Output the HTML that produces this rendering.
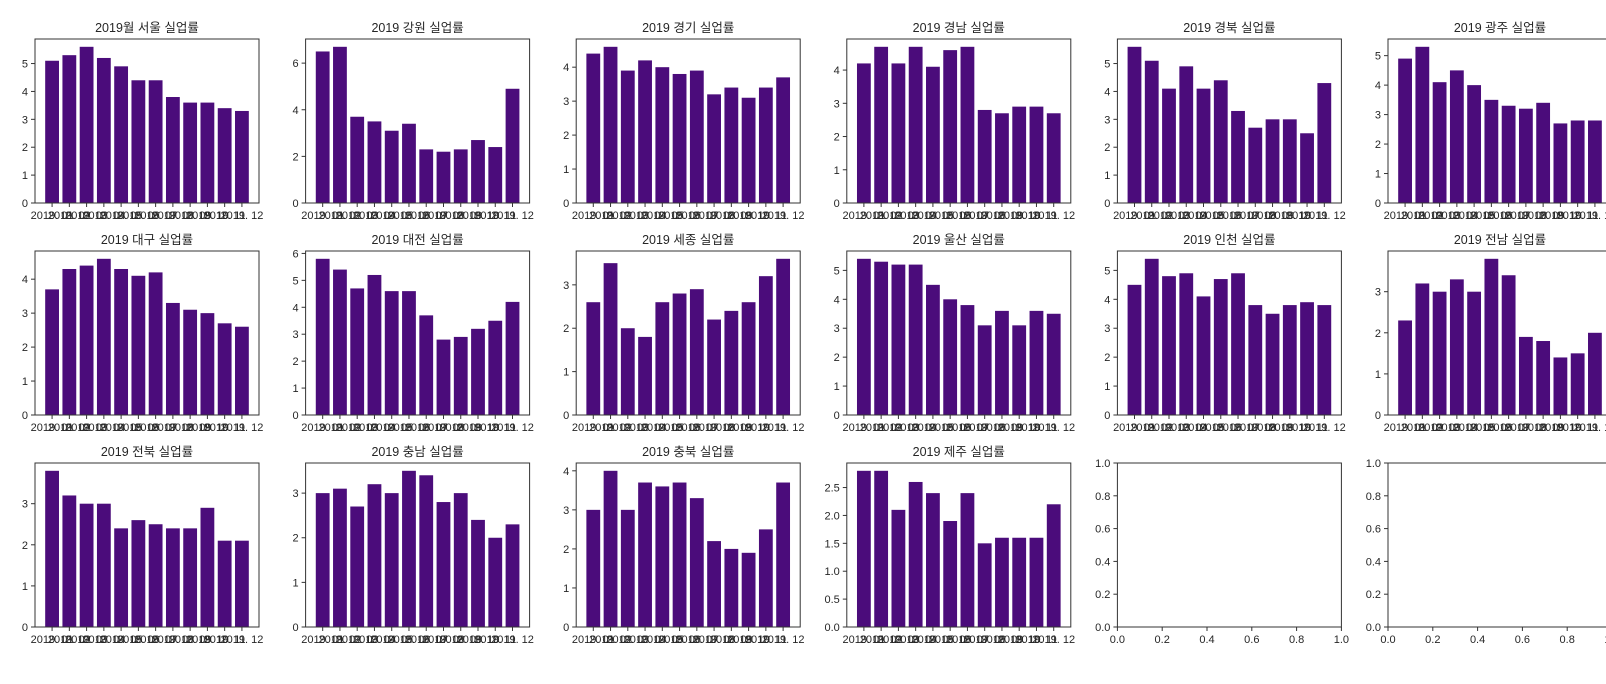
<!DOCTYPE html>
<html><head><meta charset="utf-8">
<style>
html,body{margin:0;padding:0;background:#fff;width:1606px;height:684px;overflow:hidden}
svg{display:block}
text{font-family:"Liberation Sans","Noto Sans CJK KR",sans-serif;fill:#262626}
</style></head>
<body>
<svg id="fig" width="1606" height="684" viewBox="0 0 1606 684"></svg>
<script>
const months = ["2019. 01","2019. 02","2019. 03","2019. 04","2019. 05","2019. 06","2019. 07","2019. 08","2019. 09","2019. 10","2019. 11","2019. 12"];
const titles = ["2019월 서울 실업률","2019 강원 실업률","2019 경기 실업률","2019 경남 실업률","2019 경북 실업률","2019 광주 실업률","2019 대구 실업률","2019 대전 실업률","2019 세종 실업률","2019 울산 실업률","2019 인천 실업률","2019 전남 실업률","2019 전북 실업률","2019 충남 실업률","2019 충북 실업률","2019 제주 실업률"];
const seoul = [5.1,5.3,5.6,5.2,4.9,4.4,4.4,3.8,3.6,3.6,3.4,3.3];
const gangwon = [6.5,6.7,3.7,3.5,3.1,3.4,2.3,2.2,2.3,2.7,2.4,4.9];
const gyeonggi = [4.4,4.6,3.9,4.2,4.0,3.8,3.9,3.2,3.4,3.1,3.4,3.7];
const gyeongnam = [4.2,4.7,4.2,4.7,4.1,4.6,4.7,2.8,2.7,2.9,2.9,2.7];
const gyeongbuk = [5.6,5.1,4.1,4.9,4.1,4.4,3.3,2.7,3.0,3.0,2.5,4.3];
const gwangju = [4.9,5.3,4.1,4.5,4.0,3.5,3.3,3.2,3.4,2.7,2.8,2.8];
const daegu = [3.7,4.3,4.4,4.6,4.3,4.1,4.2,3.3,3.1,3.0,2.7,2.6];
const daejeon = [5.8,5.4,4.7,5.2,4.6,4.6,3.7,2.8,2.9,3.2,3.5,4.2];
const sejong = [2.6,3.5,2.0,1.8,2.6,2.8,2.9,2.2,2.4,2.6,3.2,3.6];
const ulsan = [5.4,5.3,5.2,5.2,4.5,4.0,3.8,3.1,3.6,3.1,3.6,3.5];
const incheon = [4.5,5.4,4.8,4.9,4.1,4.7,4.9,3.8,3.5,3.8,3.9,3.8];
const jeonnam = [2.3,3.2,3.0,3.3,3.0,3.8,3.4,1.9,1.8,1.4,1.5,2.0];
const jeonbuk = [3.8,3.2,3.0,3.0,2.4,2.6,2.5,2.4,2.4,2.9,2.1,2.1];
const chungnam = [3.0,3.1,2.7,3.2,3.0,3.5,3.4,2.8,3.0,2.4,2.0,2.3];
const chungbuk = [3.0,4.0,3.0,3.7,3.6,3.7,3.3,2.2,2.0,1.9,2.5,3.7];
const jeju = [2.8,2.8,2.1,2.6,2.4,1.9,2.4,1.5,1.6,1.6,1.6,2.2];
const series = [seoul,gangwon,gyeonggi,gyeongnam,gyeongbuk,gwangju,daegu,daejeon,sejong,ulsan,incheon,jeonnam,jeonbuk,chungnam,chungbuk,jeju];
const emptyTicks = [0,0.2,0.4,0.6,0.8,1.0];

const NS="http://www.w3.org/2000/svg";
const svg=document.getElementById('fig');
const L0=35,T0=39,W=224,H=164,DX=270.6,DY=212;
function mk(tag,attrs,parent){const e=document.createElementNS(NS,tag);for(const k in attrs)e.setAttribute(k,attrs[k]);(parent||svg).appendChild(e);return e;}

for(let i=0;i<18;i++){
  const col=i%6,row=Math.floor(i/6);
  const x0=L0+col*DX,y0=T0+row*DY;
  const g=mk('g',{});
  
  
  if(i<16){
    const data=series[i];
    const ymax=Math.max(...data)*1.05;
    let step=0.5;
    for(const s of [0.5,1,2,5]){ if(Math.floor(ymax/s)+1<=7){step=s;break;} }
    const xmin=-0.99,xmax=11.99;
    const sx=v=>x0+(v-xmin)/(xmax-xmin)*W;
    const sy=v=>y0+H-v/ymax*H;
    const t=mk('text',{x:x0+W/2,y:y0-7,'text-anchor':'middle','font-size':'12.5'},g);
    t.textContent=titles[i];
    
    
    data.forEach((v,j)=>{
      const b=mk('rect',{x:sx(j-0.4),y:sy(v),width:sx(j+0.4)-sx(j-0.4),height:sy(0)-sy(v),fill:'#4b0c7b'},g);
      
      
    });
    for(let k=0;k*step<=ymax+1e-9;k++){
      const v=k*step,y=sy(v);
      mk('line',{x1:x0-4,x2:x0,y1:y,y2:y,stroke:'#333','stroke-width':1},g);
      const tl=mk('text',{x:x0-7,y:y+4,'text-anchor':'end','font-size':'11'},g);
      tl.textContent=step<1?v.toFixed(1):String(v);
      
      
    }
    months.forEach((m,j)=>{
      const x=sx(j);
      mk('line',{x1:x,x2:x,y1:y0+H,y2:y0+H+4,stroke:'#333','stroke-width':1},g);
      const tl=mk('text',{x:x,y:y0+H+16,'text-anchor':'middle','font-size':'11'},g);
      tl.textContent=m;
      
      
    });
  } else {
    emptyTicks.forEach(v=>{
      const y=y0+H-v*H, x=x0+v*W;
      mk('line',{x1:x0-4,x2:x0,y1:y,y2:y,stroke:'#333','stroke-width':1},g);
      const a=mk('text',{x:x0-7,y:y+4,'text-anchor':'end','font-size':'11'},g);
      a.textContent=v.toFixed(1);
      
      
      mk('line',{x1:x,x2:x,y1:y0+H,y2:y0+H+4,stroke:'#333','stroke-width':1},g);
      const b=mk('text',{x:x,y:y0+H+16,'text-anchor':'middle','font-size':'11'},g);
      b.textContent=v.toFixed(1);
      
      
    });
  }
  const fr=mk('rect',{x:x0,y:y0,width:W,height:H,fill:'none',stroke:'#333','stroke-width':1},g);
  
  
}
</script>
</body></html>
